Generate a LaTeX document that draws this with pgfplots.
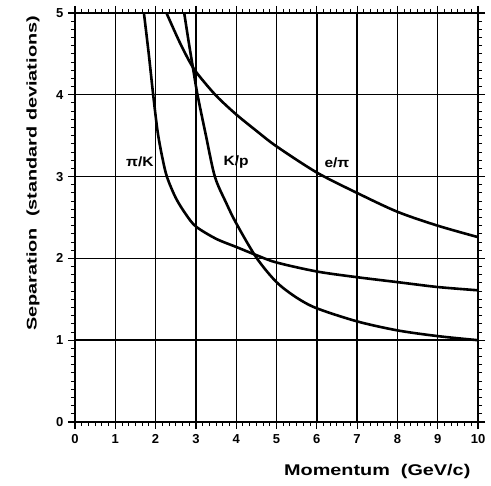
\documentclass[border=0pt]{standalone}
\usepackage{fontspec}
\setmainfont{Liberation Sans}
\usepackage{pgfplots}
\pgfplotsset{compat=1.18}
\begin{document}
\begin{tikzpicture}
\useasboundingbox (-75bp,-64bp) rectangle (416bp,422bp);
\begin{axis}[
  at={(0,0)}, anchor=south west,
  scale only axis, width=403bp, height=409bp,
  xmin=0, xmax=10, ymin=0, ymax=5,
  xtick={0,...,10}, ytick={0,...,5},
  minor x tick num=5, minor y tick num=9,
  tick align=outside,
  major tick length=7bp, minor tick length=4bp,
  tick style={black, line width=1.2bp},
  minor tick style={black, line width=1bp},
  grid=major,
  major grid style={black, line width=1.4bp},
  axis line style={black, line width=2.2bp},
  ticklabel style={font=\fontsize{13bp}{13bp}\selectfont\bfseries},
  /pgf/number format/assume math mode=true,
  xticklabel style={yshift=-2bp},
  yticklabel style={xshift=-1bp},
  clip=false,
]
\addplot[black, line width=2.6bp, smooth, tension=0.5] coordinates {
(1.71,5.0) (1.83,4.5) (1.94,4.0) (2.05,3.55) (2.16,3.25) (2.28,3.0) (2.5,2.74) (2.75,2.54) (3.0,2.39) (3.5,2.24) (4.0,2.14) (4.5,2.04) (5.0,1.95) (6.0,1.84) (7.0,1.77) (8.0,1.71) (9.0,1.65) (10.0,1.61)
};
\addplot[black, line width=2.6bp, smooth, tension=0.5] coordinates {
(2.71,5.0) (2.82,4.65) (2.93,4.32) (3.04,4.0) (3.25,3.5) (3.47,3.0) (3.75,2.68) (4.0,2.43) (4.5,2.01) (5.0,1.71) (5.5,1.52) (6.0,1.39) (7.0,1.23) (8.0,1.12) (9.0,1.05) (10.0,1.0)
};
\addplot[black, line width=2.6bp, smooth, tension=0.5] coordinates {
(2.27,5.0) (2.6,4.64) (2.92,4.34) (3.25,4.13) (3.56,3.96) (4.0,3.76) (4.5,3.56) (5.0,3.37) (6.0,3.05) (7.0,2.80) (8.0,2.57) (9.0,2.40) (10.0,2.26)
};
\node[font=\fontsize{13.5bp}{14bp}\selectfont\bfseries] at (axis cs:1.61,3.18) {\scalebox{1.15}[1]{π/K}};
\node[font=\fontsize{13.5bp}{14bp}\selectfont\bfseries] at (axis cs:4.0,3.18) {\scalebox{1.15}[1]{K/p}};
\node[font=\fontsize{13.5bp}{14bp}\selectfont\bfseries] at (axis cs:6.5,3.17) {\scalebox{1.15}[1]{e/π}};
\node[font=\fontsize{15.5bp}{16bp}\selectfont\bfseries] at (axis cs:7.5,0) [yshift=-49bp] {\scalebox{1.28}[1]{Momentum\ \ (GeV/c)}};
\node[font=\fontsize{14bp}{14bp}\selectfont\bfseries, xshift=-42bp, rotate=90] at (axis cs:0,3.04) {\scalebox{1.42}[1]{Separation\ \ (standard deviations)}};
\end{axis}
\end{tikzpicture}
\end{document}
